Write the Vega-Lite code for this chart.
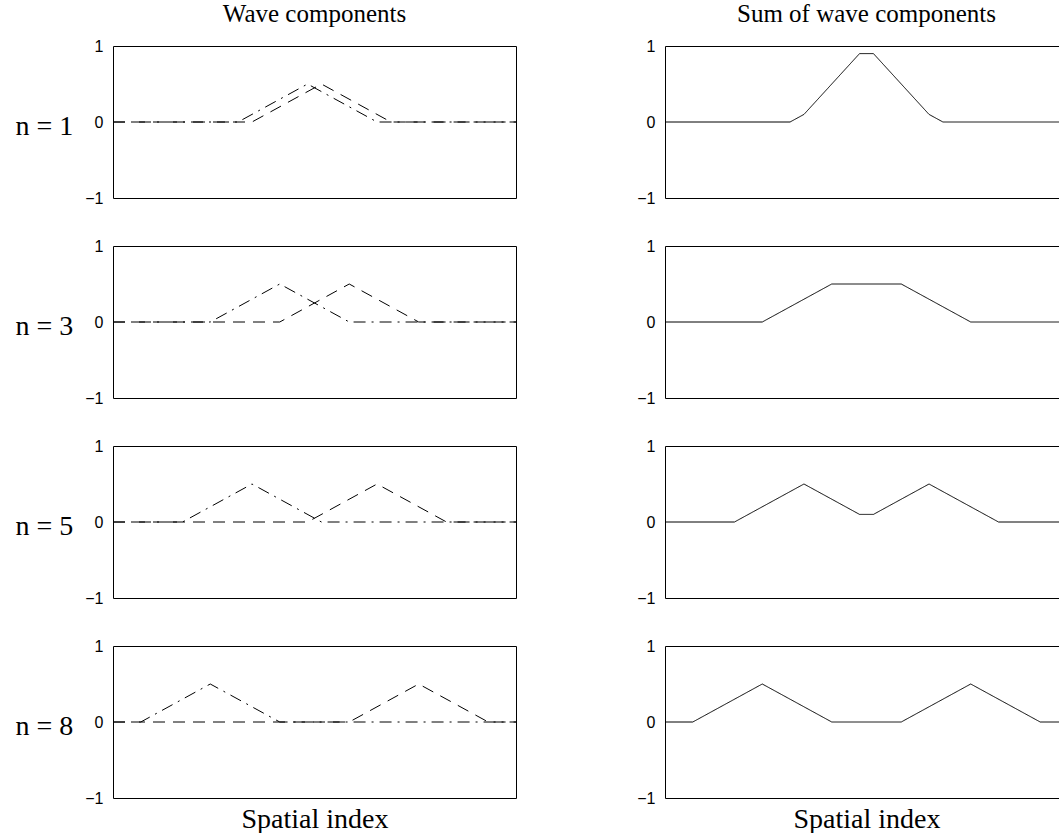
{
  "$schema": "https://vega.github.io/schema/vega-lite/v6.json",
  "background": "white",
  "padding": {"left": 15, "top": 2, "right": -10, "bottom": 0},
  "data": {"values": [
    {"n": "n = 1", "p": "Wave components", "s": "a", "x": 0, "y": 0},
    {"n": "n = 1", "p": "Wave components", "s": "a", "x": 18, "y": 0},
    {"n": "n = 1", "p": "Wave components", "s": "a", "x": 28, "y": 0.5},
    {"n": "n = 1", "p": "Wave components", "s": "a", "x": 38, "y": 0},
    {"n": "n = 1", "p": "Wave components", "s": "a", "x": 58, "y": 0},
    {"n": "n = 1", "p": "Wave components", "s": "b", "x": 0, "y": 0},
    {"n": "n = 1", "p": "Wave components", "s": "b", "x": 20, "y": 0},
    {"n": "n = 1", "p": "Wave components", "s": "b", "x": 30, "y": 0.5},
    {"n": "n = 1", "p": "Wave components", "s": "b", "x": 40, "y": 0},
    {"n": "n = 1", "p": "Wave components", "s": "b", "x": 58, "y": 0},
    {"n": "n = 3", "p": "Wave components", "s": "a", "x": 0, "y": 0},
    {"n": "n = 3", "p": "Wave components", "s": "a", "x": 14, "y": 0},
    {"n": "n = 3", "p": "Wave components", "s": "a", "x": 24, "y": 0.5},
    {"n": "n = 3", "p": "Wave components", "s": "a", "x": 34, "y": 0},
    {"n": "n = 3", "p": "Wave components", "s": "a", "x": 58, "y": 0},
    {"n": "n = 3", "p": "Wave components", "s": "b", "x": 0, "y": 0},
    {"n": "n = 3", "p": "Wave components", "s": "b", "x": 24, "y": 0},
    {"n": "n = 3", "p": "Wave components", "s": "b", "x": 34, "y": 0.5},
    {"n": "n = 3", "p": "Wave components", "s": "b", "x": 44, "y": 0},
    {"n": "n = 3", "p": "Wave components", "s": "b", "x": 58, "y": 0},
    {"n": "n = 5", "p": "Wave components", "s": "a", "x": 0, "y": 0},
    {"n": "n = 5", "p": "Wave components", "s": "a", "x": 10, "y": 0},
    {"n": "n = 5", "p": "Wave components", "s": "a", "x": 20, "y": 0.5},
    {"n": "n = 5", "p": "Wave components", "s": "a", "x": 30, "y": 0},
    {"n": "n = 5", "p": "Wave components", "s": "a", "x": 58, "y": 0},
    {"n": "n = 5", "p": "Wave components", "s": "b", "x": 0, "y": 0},
    {"n": "n = 5", "p": "Wave components", "s": "b", "x": 28, "y": 0},
    {"n": "n = 5", "p": "Wave components", "s": "b", "x": 38, "y": 0.5},
    {"n": "n = 5", "p": "Wave components", "s": "b", "x": 48, "y": 0},
    {"n": "n = 5", "p": "Wave components", "s": "b", "x": 58, "y": 0},
    {"n": "n = 8", "p": "Wave components", "s": "a", "x": 0, "y": 0},
    {"n": "n = 8", "p": "Wave components", "s": "a", "x": 4, "y": 0},
    {"n": "n = 8", "p": "Wave components", "s": "a", "x": 14, "y": 0.5},
    {"n": "n = 8", "p": "Wave components", "s": "a", "x": 24, "y": 0},
    {"n": "n = 8", "p": "Wave components", "s": "a", "x": 58, "y": 0},
    {"n": "n = 8", "p": "Wave components", "s": "b", "x": 0, "y": 0},
    {"n": "n = 8", "p": "Wave components", "s": "b", "x": 34, "y": 0},
    {"n": "n = 8", "p": "Wave components", "s": "b", "x": 44, "y": 0.5},
    {"n": "n = 8", "p": "Wave components", "s": "b", "x": 54, "y": 0},
    {"n": "n = 8", "p": "Wave components", "s": "b", "x": 58, "y": 0},
    {"n": "n = 1", "p": "Sum of wave components", "s": "sum", "x": 0, "y": 0},
    {"n": "n = 1", "p": "Sum of wave components", "s": "sum", "x": 18, "y": 0},
    {"n": "n = 1", "p": "Sum of wave components", "s": "sum", "x": 20, "y": 0.1},
    {"n": "n = 1", "p": "Sum of wave components", "s": "sum", "x": 28, "y": 0.9},
    {"n": "n = 1", "p": "Sum of wave components", "s": "sum", "x": 30, "y": 0.9},
    {"n": "n = 1", "p": "Sum of wave components", "s": "sum", "x": 38, "y": 0.1},
    {"n": "n = 1", "p": "Sum of wave components", "s": "sum", "x": 40, "y": 0},
    {"n": "n = 1", "p": "Sum of wave components", "s": "sum", "x": 58, "y": 0},
    {"n": "n = 3", "p": "Sum of wave components", "s": "sum", "x": 0, "y": 0},
    {"n": "n = 3", "p": "Sum of wave components", "s": "sum", "x": 14, "y": 0},
    {"n": "n = 3", "p": "Sum of wave components", "s": "sum", "x": 24, "y": 0.5},
    {"n": "n = 3", "p": "Sum of wave components", "s": "sum", "x": 34, "y": 0.5},
    {"n": "n = 3", "p": "Sum of wave components", "s": "sum", "x": 44, "y": 0},
    {"n": "n = 3", "p": "Sum of wave components", "s": "sum", "x": 58, "y": 0},
    {"n": "n = 5", "p": "Sum of wave components", "s": "sum", "x": 0, "y": 0},
    {"n": "n = 5", "p": "Sum of wave components", "s": "sum", "x": 10, "y": 0},
    {"n": "n = 5", "p": "Sum of wave components", "s": "sum", "x": 20, "y": 0.5},
    {"n": "n = 5", "p": "Sum of wave components", "s": "sum", "x": 28, "y": 0.1},
    {"n": "n = 5", "p": "Sum of wave components", "s": "sum", "x": 30, "y": 0.1},
    {"n": "n = 5", "p": "Sum of wave components", "s": "sum", "x": 38, "y": 0.5},
    {"n": "n = 5", "p": "Sum of wave components", "s": "sum", "x": 48, "y": 0},
    {"n": "n = 5", "p": "Sum of wave components", "s": "sum", "x": 58, "y": 0},
    {"n": "n = 8", "p": "Sum of wave components", "s": "sum", "x": 0, "y": 0},
    {"n": "n = 8", "p": "Sum of wave components", "s": "sum", "x": 4, "y": 0},
    {"n": "n = 8", "p": "Sum of wave components", "s": "sum", "x": 14, "y": 0.5},
    {"n": "n = 8", "p": "Sum of wave components", "s": "sum", "x": 24, "y": 0},
    {"n": "n = 8", "p": "Sum of wave components", "s": "sum", "x": 34, "y": 0},
    {"n": "n = 8", "p": "Sum of wave components", "s": "sum", "x": 44, "y": 0.5},
    {"n": "n = 8", "p": "Sum of wave components", "s": "sum", "x": 54, "y": 0},
    {"n": "n = 8", "p": "Sum of wave components", "s": "sum", "x": 58, "y": 0}
  ]},
  "facet": {
    "row": {"field": "n", "type": "nominal", "title": null,
      "header": {"labelAngle": 0, "labelOrient": "left", "labelAlign": "right", "labelBaseline": "line-top", "labelLineHeight": 9, "labelPadding": -18, "labelFont": "Liberation Serif", "labelFontSize": 28, "labelColor": "black"}},
    "column": {"field": "p", "type": "nominal", "title": null, "sort": ["Wave components", "Sum of wave components"],
      "header": {"labelOrient": "top", "labelPadding": 19, "labelFont": "Liberation Serif", "labelFontSize": 25, "labelColor": "black"}}
  },
  "spacing": {"row": 48, "column": 149},
  "bounds": "flush",
  "resolve": {"axis": {"y": "independent"}},
  "spec": {
    "width": 403,
    "height": 152,
    "mark": {"type": "line", "color": "black", "strokeWidth": 1, "clip": true},
    "encoding": {
      "x": {"field": "x", "type": "quantitative", "scale": {"domain": [0, 58], "nice": false, "zero": false},
        "axis": {"title": "Spatial index", "labels": false, "ticks": false, "domain": false, "grid": false, "titleFont": "Liberation Serif", "titleFontSize": 28, "titleFontWeight": "normal", "titlePadding": 7, "titleColor": "black"}},
      "y": {"field": "y", "type": "quantitative", "scale": {"domain": [-1, 1], "nice": false},
        "axis": {"values": [-1, 0, 1], "labelExpr": "datum.value > 0.5 ? '1' : (datum.value < -0.5 ? '−1' : '0')", "title": null, "ticks": false, "domain": false, "grid": false, "labelFont": "Liberation Sans", "labelFontSize": 16, "labelPadding": 10, "labelColor": "black"}},
      "strokeDash": {"field": "s", "type": "nominal", "scale": {"domain": ["a", "b", "sum"], "range": [[12, 6, 2, 6], [12, 8], [1, 0]]}, "legend": null}
    }
  },
  "config": {"view": {"stroke": "black", "strokeWidth": 1}}
}
